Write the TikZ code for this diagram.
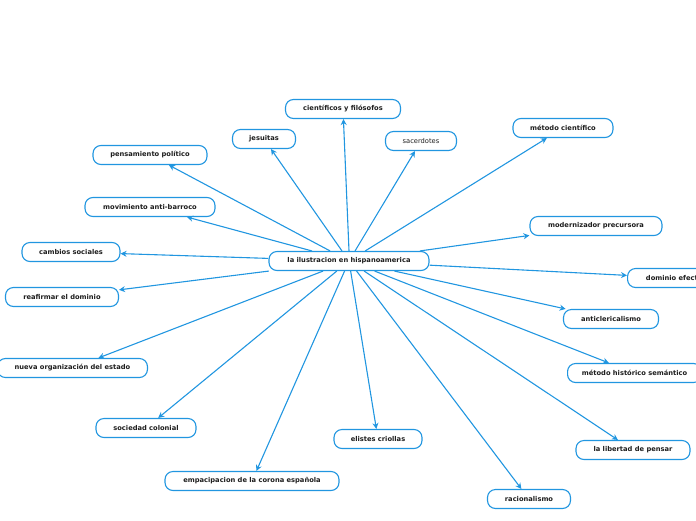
\documentclass[tikz,border=0pt]{standalone}
\usepackage{fontspec}
\setmainfont{DejaVu Sans}
\usetikzlibrary{arrows.meta,positioning}
\definecolor{mapblue}{RGB}{33,150,224}
\definecolor{maptext}{RGB}{30,30,30}
\tikzset{
  topic/.style={rounded corners=8pt, draw=mapblue, fill=white, line width=1.1pt,
               minimum height=19pt, inner xsep=6pt, text=maptext, font=\fontsize{6.7}{7}\selectfont\bfseries},
  plain/.style={topic, font=\fontsize{6.7}{7}\selectfont},
  link/.style={-{Stealth[length=6pt,width=6pt]}, line width=1.1pt, draw=mapblue},
}
\begin{document}
\begin{tikzpicture}[x=1pt, y=-1pt]
        \useasboundingbox (0,0) rectangle (696,520);
        \node[topic, minimum width=160pt] (main) at (349,261) {la ilustracion en hispanoamerica};
        % ramas de arriba
        \node[topic, minimum width=115pt] (cient) at (343,109) {científicos y filósofos};
        \node[topic, minimum width=63pt] (jes) at (264,139) {jesuitas};
        \node[plain, minimum width=71pt] (sac) at (421,141) {sacerdotes};
        \node[topic, minimum width=100pt] (metc) at (563,128) {método científico};
        \node[topic, minimum width=114pt] (pol) at (150,155) {pensamiento político};
        \node[topic, minimum width=130pt] (barr) at (150,207) {movimiento anti-barroco};
        % ramas de los lados
        \node[topic, minimum width=98pt] (camb) at (71,252) {cambios sociales};
        \node[topic, minimum width=113pt] (reaf) at (62,297) {reafirmar el dominio};
        \node[topic, minimum width=132pt] (mod) at (596,226) {modernizador precursora};
        \node[topic, minimum width=100pt, anchor=west] (efec) at (627,278) {dominio efectivo};
        \node[topic, minimum width=95pt] (anti) at (611,319) {anticlericalismo};
        \node[topic, minimum width=134pt, anchor=west] (meth) at (567,373) {método histórico semántico};
        % ramas de abajo
        \node[topic, minimum width=150pt, anchor=east] (nueva) at (148,368) {nueva organización del estado};
        \node[topic, minimum width=100pt] (soc) at (146,428) {sociedad colonial};
        \node[topic, minimum width=88pt] (eli) at (378,439) {elistes criollas};
        \node[topic, minimum width=174pt] (emp) at (252,481) {empacipacion de la corona española};
        \node[topic, minimum width=83pt] (rac) at (529,499) {racionalismo};
        \node[topic, minimum width=114pt] (lib) at (633,450) {la libertad de pensar};
        \draw[link] (main.north)--(cient); \draw[link] (main)--(jes); \draw[link] (main)--(sac); \draw[link] (main)--(metc);
        \draw[link] (main)--(pol); \draw[link] (main)--(barr); \draw[link] (main)--(camb); \draw[link] (main)--(reaf);
        \draw[link] (main)--(mod); \draw[link] (main)--(efec); \draw[link] (main)--(anti); \draw[link] (main)--(meth);
        \draw[link] (main)--(nueva); \draw[link] (main)--(soc); \draw[link] (main)--(eli); \draw[link] (main)--(emp);
        \draw[link] (main)--(rac); \draw[link] (main)--(lib);
      \end{tikzpicture}
\end{document}
